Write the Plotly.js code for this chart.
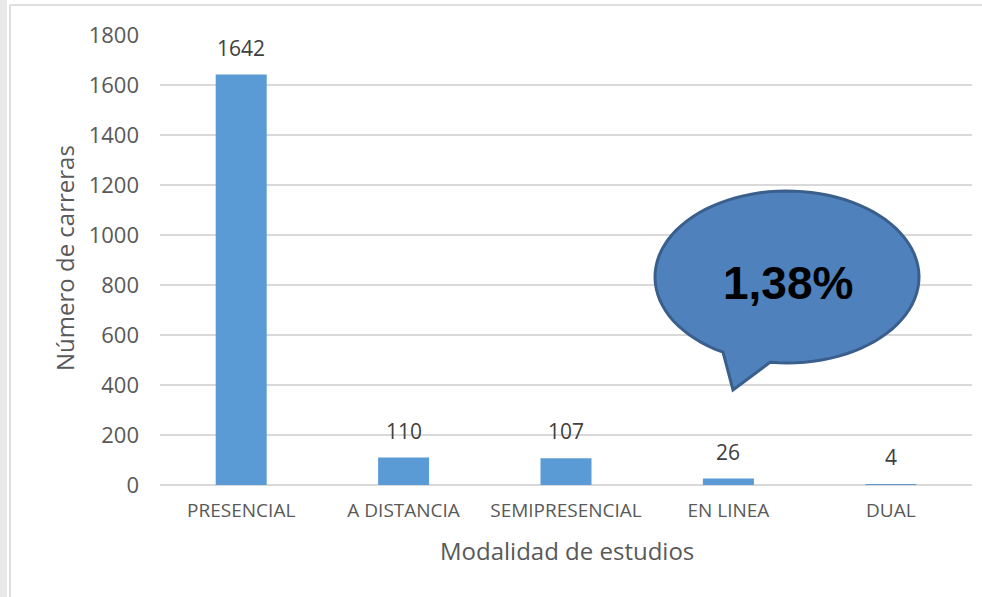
<!DOCTYPE html>
<html>
<head>
<meta charset="utf-8">
<script src="https://cdn.plot.ly/plotly-3.0.1.min.js"></script>
<style>html,body{margin:0;padding:0;background:#fff;}#chart{width:982px;height:597px;}</style>
</head>
<body>
<div id="chart"></div>
<script>
// ---- data ----
const categories = ['PRESENCIAL', 'A DISTANCIA', 'SEMIPRESENCIAL', 'EN LINEA', 'DUAL'];
const values = [1642, 110, 107, 26, 4];
const yTickValues = [0, 200, 400, 600, 800, 1000, 1200, 1400, 1600, 1800];
const yTitle = 'Número de carreras';
const xTitle = 'Modalidad de estudios';
const calloutText = '1,38%';

// ---- geometry helpers (plot area in pixels) ----
const W = 982, H = 597;
const M = {l: 160, r: 10, t: 35, b: 112};
const PW = W - M.l - M.r, PH = H - M.t - M.b;
const px = x => (x - M.l) / PW;
const py = y => (H - M.b - y) / PH;

// callout path (ellipse + tail) built in pixel space
function calloutPath() {
  const cx = 787, cy = 277, rx = 132, ry = 86;
  const angStart = Math.acos((770 - cx) / rx);              // right base of tail
  const angEnd = Math.acos((723 - cx) / rx) - 2 * Math.PI;   // left base of tail
  const pts = [];
  const n = 90;
  for (let i = 0; i <= n; i++) {
    const t = angStart + (angEnd - angStart) * i / n;
    pts.push([cx + rx * Math.cos(t), cy + ry * Math.sin(t)]);
  }
  pts.push([733, 390]);
  let d = 'M ' + px(pts[0][0]) + ',' + py(pts[0][1]);
  for (let i = 1; i < pts.length; i++) d += ' L ' + px(pts[i][0]) + ',' + py(pts[i][1]);
  return d + ' Z';
}

const font = 'Open Sans, Lato, sans-serif';

const trace = {
  type: 'bar',
  x: categories,
  y: values,
  marker: {color: '#5b9bd5'},
  hoverinfo: 'x+y'
};

const valueLabels = categories.map((c, i) => ({
  x: c, y: values[i], xref: 'x', yref: 'y',
  text: String(values[i]), showarrow: false,
  yanchor: 'bottom', yshift: 11,
  font: {family: font, size: 21, color: '#404040'}
}));

const layout = {
  width: W, height: H,
  margin: M,
  paper_bgcolor: '#ffffff',
  plot_bgcolor: '#ffffff',
  showlegend: false,
  bargap: 0.686,
  xaxis: {
    type: 'category',
    showgrid: false, zeroline: false, showline: false, ticks: '',
    tickfont: {family: font, size: 19, color: '#595959'},
    ticklabelstandoff: 12
  },
  yaxis: {
    range: [0, 1800],
    tickvals: yTickValues,
    ticktext: yTickValues.map(String),
    showgrid: true, gridcolor: '#d9d9d9', gridwidth: 1.5,
    zeroline: true, zerolinecolor: '#d9d9d9', zerolinewidth: 1.5,
    showline: false, ticks: '',
    tickfont: {family: font, size: 22, color: '#595959'},
    ticklabelstandoff: 20
  },
  shapes: [
    // page frame
    {type: 'rect', xref: 'paper', yref: 'paper', x0: px(0), x1: px(7), y0: py(597), y1: py(0),
     fillcolor: '#e9e9e9', line: {width: 0}, layer: 'below'},
    {type: 'line', xref: 'paper', yref: 'paper', x0: px(10), x1: px(10), y0: py(597), y1: py(5),
     line: {color: '#dedede', width: 2}, layer: 'below'},
    {type: 'line', xref: 'paper', yref: 'paper', x0: px(10), x1: px(982), y0: py(5), y1: py(5),
     line: {color: '#dedede', width: 2}, layer: 'below'},
    // callout
    {type: 'path', xref: 'paper', yref: 'paper', path: calloutPath(),
     fillcolor: '#4f81bd', line: {color: '#3a5f8c', width: 3}, layer: 'above'}
  ],
  annotations: valueLabels.concat([
    {xref: 'paper', yref: 'paper', x: px(64), y: py(258), text: yTitle, textangle: -90,
     showarrow: false, xanchor: 'center', yanchor: 'middle',
     font: {family: font, size: 24, color: '#595959'}},
    {xref: 'paper', yref: 'paper', x: px(567), y: py(550), text: xTitle,
     showarrow: false, xanchor: 'center', yanchor: 'middle',
     font: {family: font, size: 24, color: '#595959'}},
    {xref: 'paper', yref: 'paper', x: px(788), y: py(283), text: '<b>' + calloutText + '</b>',
     showarrow: false, xanchor: 'center', yanchor: 'middle',
     font: {family: 'Liberation Sans, Arial, sans-serif', size: 46, color: '#000000'}}
  ])
};

Plotly.newPlot('chart', [trace], layout, {displayModeBar: false, staticPlot: true});
</script>
</body>
</html>
